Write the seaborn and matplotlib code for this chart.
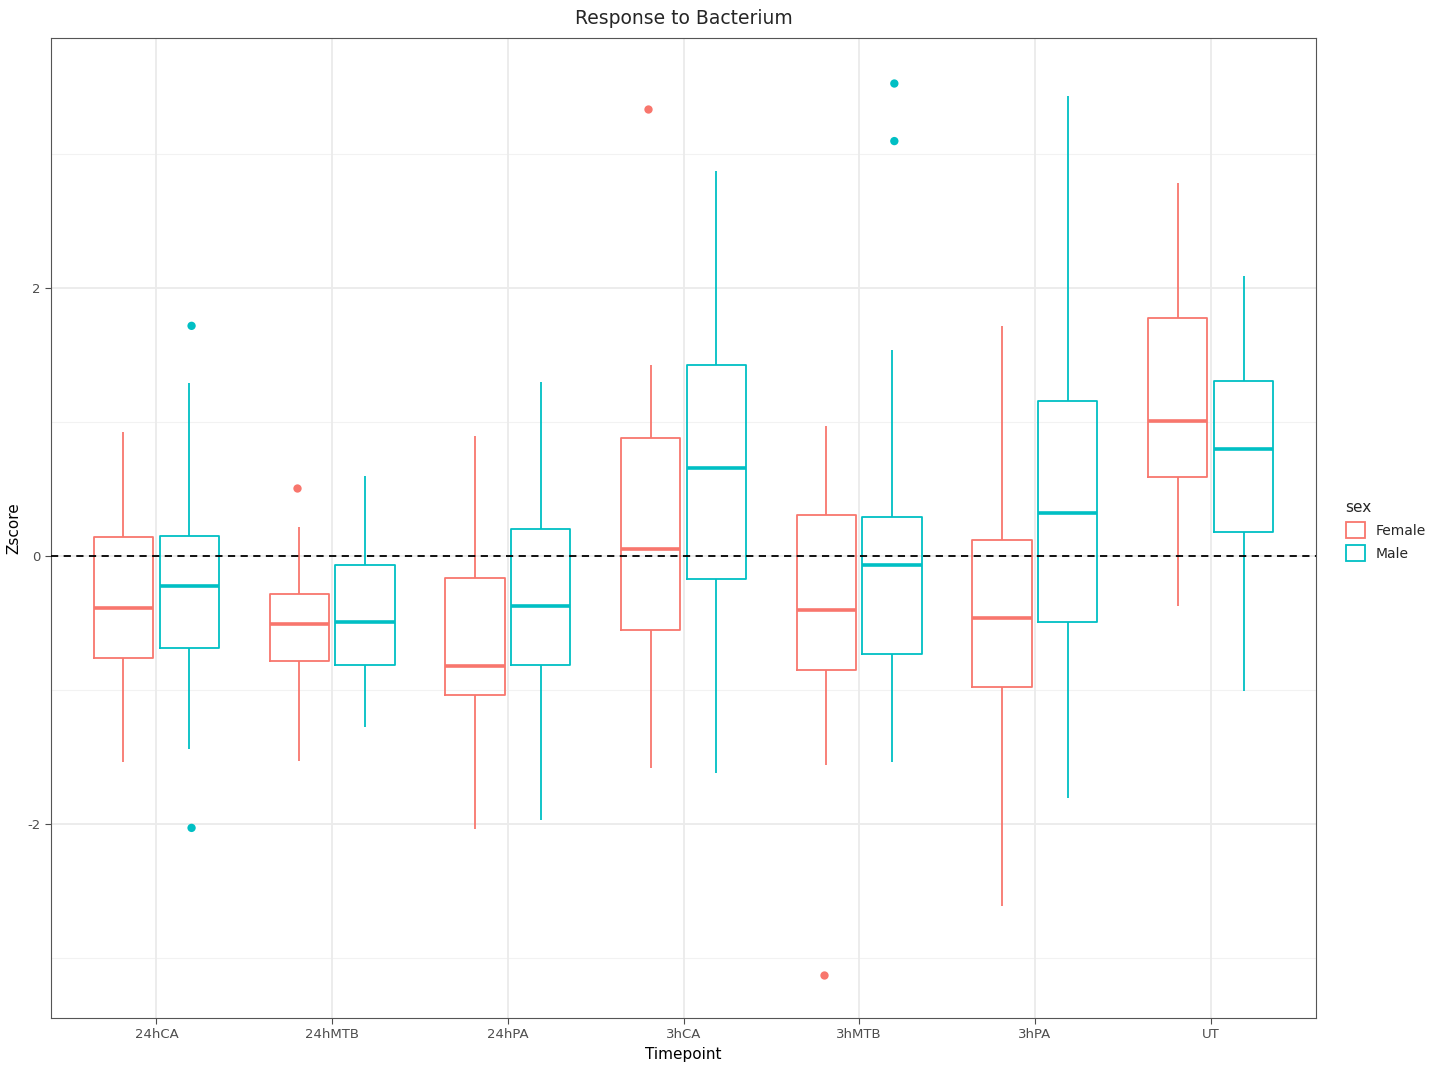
import numpy as np
import pandas as pd
import matplotlib
matplotlib.use("Agg")
import matplotlib.pyplot as plt
import seaborn as sns
from matplotlib.patches import Patch

timepoints = ["24hCA", "24hMTB", "24hPA", "3hCA", "3hMTB", "3hPA", "UT"]
sexes = ["Female", "Male"]
# [low whisker, q1, median, q3, high whisker]
female_stats = [
    [-1.54, -0.76, -0.39, 0.14, 0.93],
    [-1.53, -0.78, -0.51, -0.28, 0.22],
    [-2.04, -1.04, -0.82, -0.16, 0.90],
    [-1.58, -0.55, 0.05, 0.88, 1.43],
    [-1.56, -0.85, -0.40, 0.31, 0.97],
    [-2.61, -0.98, -0.46, 0.12, 1.72],
    [-0.37, 0.59, 1.01, 1.78, 2.79],
]
male_stats = [
    [-1.44, -0.69, -0.22, 0.15, 1.29],
    [-1.28, -0.81, -0.49, -0.07, 0.60],
    [-1.97, -0.81, -0.37, 0.20, 1.30],
    [-1.62, -0.17, 0.66, 1.43, 2.88],
    [-1.54, -0.73, -0.07, 0.29, 1.54],
    [-1.81, -0.49, 0.32, 1.16, 3.44],
    [-1.01, 0.18, 0.80, 1.31, 2.09],
]
outlier_tp = ["24hCA", "24hCA", "24hMTB", "3hCA", "3hMTB", "3hMTB", "3hMTB"]
outlier_sex = ["Male", "Male", "Female", "Female", "Female", "Male", "Male"]
outlier_val = [1.72, -2.03, 0.51, 3.34, -3.13, 3.53, 3.10]

palette = {"Female": "#F8766D", "Male": "#00BFC4"}

rows = []
for tp, fs, ms in zip(timepoints, female_stats, male_stats):
    for v in fs:
        rows.append((tp, "Female", v))
    for v in ms:
        rows.append((tp, "Male", v))
df = pd.DataFrame(rows, columns=["Timepoint", "sex", "Zscore"])
out_df = pd.DataFrame({"Timepoint": outlier_tp, "sex": outlier_sex, "Zscore": outlier_val})

sns.set_theme(style="white")
plt.rcParams['font.family'] = ['DejaVu Sans']
fig = plt.figure(figsize=(14.4, 10.74), dpi=100)
ax = fig.add_axes([51/1440, 1 - 1018/1074, (1316-51)/1440, (1018-38)/1074])

for y in [-3, -1, 1, 3]:
    ax.axhline(y, color="#F2F2F2", lw=0.8, zorder=0)
for y in [-2, 0, 2]:
    ax.axhline(y, color="#EBEBEB", lw=1.3, zorder=0)
for i in range(len(timepoints)):
    ax.axvline(i, color="#EBEBEB", lw=1.3, zorder=0)

sns.boxplot(data=df, x="Timepoint", y="Zscore", hue="sex", order=timepoints,
            hue_order=sexes, palette=palette, fill=False, whis=(0, 100),
            width=0.75, gap=0.1, linewidth=1.3, ax=ax, legend=False,
            medianprops={"linewidth": 2.6}, capprops={"linewidth": 0})
sns.stripplot(data=out_df, x="Timepoint", y="Zscore", hue="sex", order=timepoints,
              hue_order=sexes, palette=palette, dodge=True, jitter=False,
              size=6, ax=ax, legend=False)

ax.axhline(0, color="black", ls=(0, (4, 3)), lw=1.3, zorder=3)
ax.set_ylim(-3.45, 3.87)
ax.set_xlim(-0.6, 6.6)
ax.set_yticks([-2, 0, 2])
ax.set_yticklabels(["-2", "0", "2"])
ax.tick_params(axis="both", colors="#4D4D4D", labelsize=9.5, length=4, width=0.8,
               left=True, bottom=True)
for s in ax.spines.values():
    s.set_color("#555555")
    s.set_linewidth(0.8)
ax.set_xlabel("Timepoint", fontsize=11, color="black")
ax.set_ylabel("Zscore", fontsize=11, color="black")
fig.text((51+1316)/2/1440, 1 - 19/1074, "Response to Bacterium", ha="center",
         va="center", fontsize=13.5)

handles = [Patch(facecolor="white", edgecolor=palette[s], lw=1.3, label=s) for s in sexes]
fig.legend(handles=handles, title="sex", loc="upper left",
           bbox_to_anchor=(1333/1440, 1 - 488/1074), frameon=False,
           fontsize=10, title_fontsize=11, alignment="left",
           handlelength=1.4, handleheight=1.4)

fig.savefig("out.png", dpi=100)
